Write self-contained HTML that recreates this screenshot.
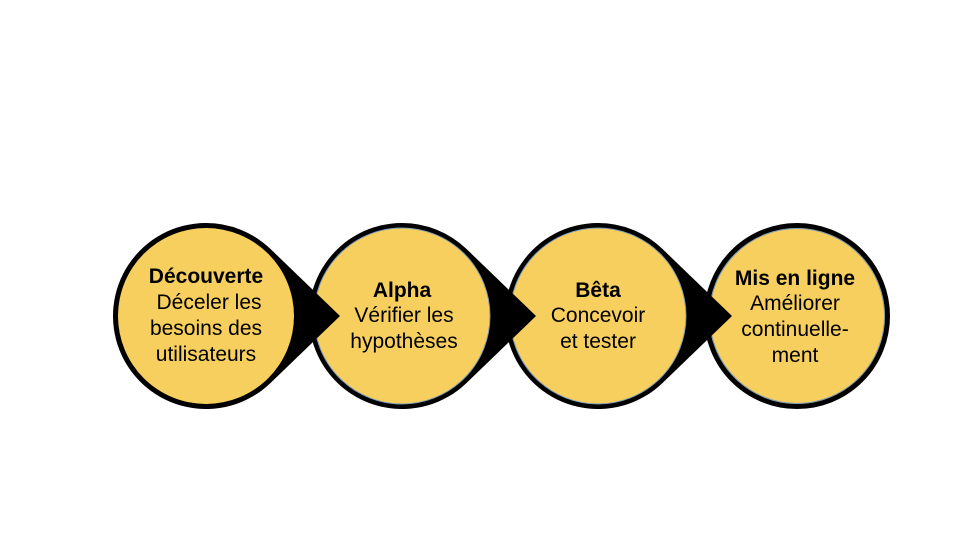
<!DOCTYPE html>
<html><head><meta charset="utf-8"><style>
html,body{margin:0;padding:0;background:#fff;}
svg{display:block;}
text{font-family:"Liberation Sans","DejaVu Sans",sans-serif;font-size:21px;fill:#000;text-anchor:middle;}
.b{font-weight:bold;}
</style></head><body>
<svg width="960" height="540" viewBox="0 0 960 540" xmlns="http://www.w3.org/2000/svg">
<defs>
<g id="tear">
<path d="M0,-93 A93,93 0 1,0 64.4,67.1 L134,0 L64.4,-67.1 A93,93 0 0,0 0,-93 Z" fill="#000"/>
</g>
</defs>
<g transform="translate(797,316)"><circle r="90.5" fill="#F7CF5F" stroke="#000" stroke-width="5"/><circle r="87.5" fill="none" stroke="#7a9ab8" stroke-width="1"/></g>
<g transform="translate(598,316)"><use href="#tear"/><circle r="88" fill="#F7CF5F" stroke="#7a9ab8" stroke-width="1"/></g>
<g transform="translate(402,316)"><use href="#tear"/><circle r="88" fill="#F7CF5F" stroke="#7a9ab8" stroke-width="1"/></g>
<g transform="translate(206,316)"><use href="#tear"/><circle r="88" fill="#F7CF5F"/></g>

<text class="b" x="206" y="283">Découverte</text>
<text x="209" y="309">Déceler les</text>
<text x="206" y="335">besoins des</text>
<text x="206" y="361">utilisateurs</text>

<text class="b" x="402" y="297">Alpha</text>
<text x="404" y="322">Vérifier les</text>
<text x="404" y="348">hypothèses</text>

<text class="b" x="598" y="297">Bêta</text>
<text x="598" y="322">Concevoir</text>
<text x="598" y="348">et tester</text>

<text class="b" x="795" y="285">Mis en ligne</text>
<text x="795" y="310">Améliorer</text>
<text x="795" y="336">continuelle-</text>
<text x="795" y="362">ment</text>
</svg>
</body></html>
